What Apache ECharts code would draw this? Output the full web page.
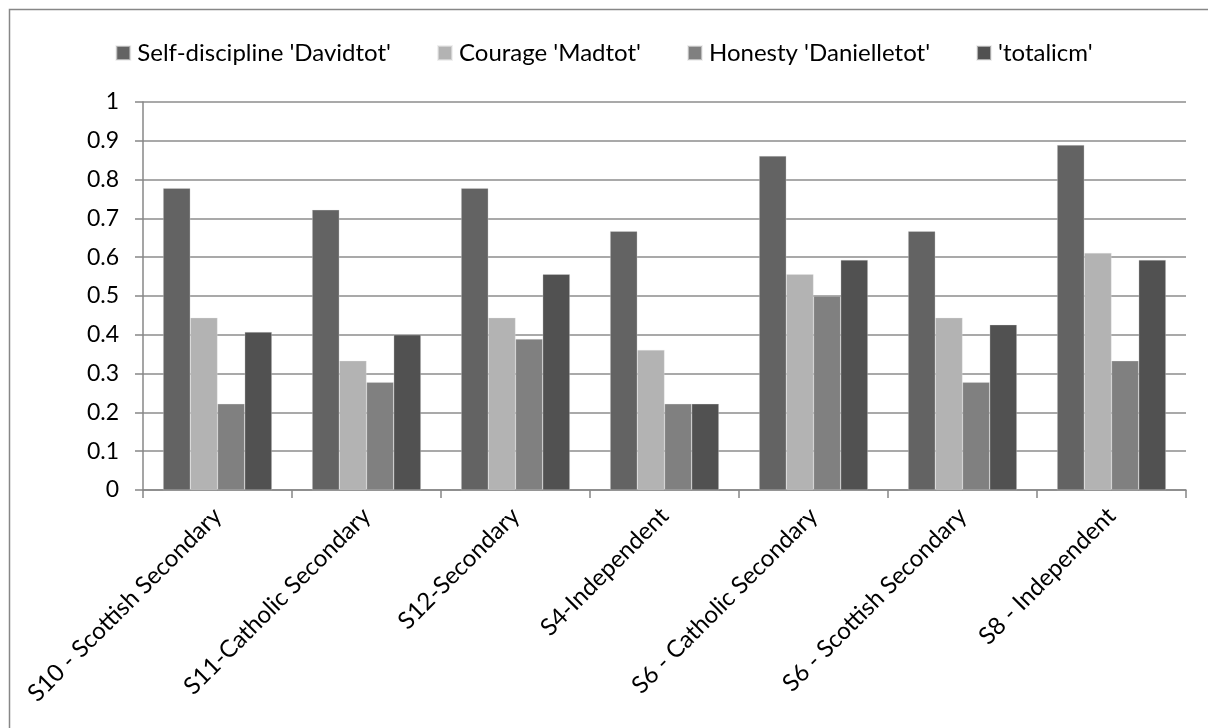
<!DOCTYPE html>
<html>
<head>
<meta charset="utf-8">
<style>
  html, body { margin: 0; padding: 0; background: #ffffff; }
  #chart { width: 1208px; height: 728px; }
</style>
<script src="https://cdn.jsdelivr.net/npm/echarts@6/dist/echarts.min.js"></script>
</head>
<body>
<div id="chart"></div>
<script>
// School categories along the x axis
const schools = [
  'S10 - Scottish Secondary',
  'S11-Catholic Secondary',
  'S12-Secondary',
  'S4-Independent',
  'S6 - Catholic Secondary',
  'S6 - Scottish Secondary',
  'S8 - Independent'
];

// Series names
const seriesNames = [
  "Self-discipline 'Davidtot'",
  "Courage 'Madtot'",
  "Honesty 'Danielletot'",
  "'totalicm'"
];

// Proportions per school
const davidtot    = [0.778, 0.722, 0.778, 0.667, 0.861, 0.667, 0.889];
const madtot      = [0.444, 0.333, 0.444, 0.361, 0.556, 0.444, 0.611];
const danielletot = [0.222, 0.278, 0.389, 0.222, 0.500, 0.278, 0.333];
const totalicm    = [0.407, 0.400, 0.556, 0.222, 0.593, 0.426, 0.593];

// Y axis ticks
const yTicks = [0, 0.1, 0.2, 0.3, 0.4, 0.5, 0.6, 0.7, 0.8, 0.9, 1];

const seriesData = [davidtot, madtot, danielletot, totalicm];
const colors = ['#636363', '#b3b3b3', '#808080', '#515151'];
const fontFamily = 'Lato, "Open Sans", sans-serif';

const chart = echarts.init(document.getElementById('chart'), null, { renderer: 'canvas' });

chart.setOption({
  animation: false,
  backgroundColor: '#ffffff',
  color: colors,
  textStyle: { fontFamily: fontFamily },
  graphic: [{
    type: 'rect',
    shape: { x: 9.5, y: 9.5, width: 1220, height: 740 },
    style: { fill: 'none', stroke: '#878787', lineWidth: 1.5 },
    silent: true,
    z: -1
  }],
  legend: {
    top: 36,
    left: 'center',
    itemWidth: 14,
    itemHeight: 14,
    itemGap: 46,
    icon: 'rect',
    textStyle: { fontSize: 24, color: '#000000', fontFamily: fontFamily, padding: [0, 0, 0, 2] },
    data: seriesNames
  },
  grid: {
    left: 143,
    right: 22,
    top: 102,
    bottom: 238,
    containLabel: false
  },
  xAxis: {
    type: 'category',
    data: schools,
    boundaryGap: true,
    axisLine: { lineStyle: { color: '#878787', width: 1.5 } },
    axisTick: { show: true, length: 8, alignWithLabel: false, lineStyle: { color: '#878787', width: 1.5 } },
    axisLabel: {
      rotate: 45,
      interval: 0,
      fontSize: 24,
      color: '#000000',
      margin: 22,
      fontFamily: fontFamily
    },
    splitLine: { show: false }
  },
  yAxis: {
    type: 'value',
    min: yTicks[0],
    max: yTicks[yTicks.length - 1],
    interval: 0.1,
    axisLine: { show: true, lineStyle: { color: '#878787', width: 1.5 } },
    axisTick: { show: true, length: 8, lineStyle: { color: '#878787', width: 1.5 } },
    axisLabel: {
      fontSize: 23,
      color: '#000000',
      margin: 24,
      fontFamily: fontFamily,
      formatter: function (v) { return String(Math.round(v * 10) / 10); }
    },
    splitLine: { show: true, lineStyle: { color: '#8c8c8c', width: 1.5 } }
  },
  series: seriesNames.map(function (name, i) {
    return {
      name: name,
      type: 'bar',
      data: seriesData[i],
      barGap: '0%',
      barCategoryGap: '27%',
      itemStyle: { color: colors[i], borderColor: 'rgba(230,230,230,0.6)', borderWidth: 0.5 }
    };
  })
});
</script>
</body>
</html>
